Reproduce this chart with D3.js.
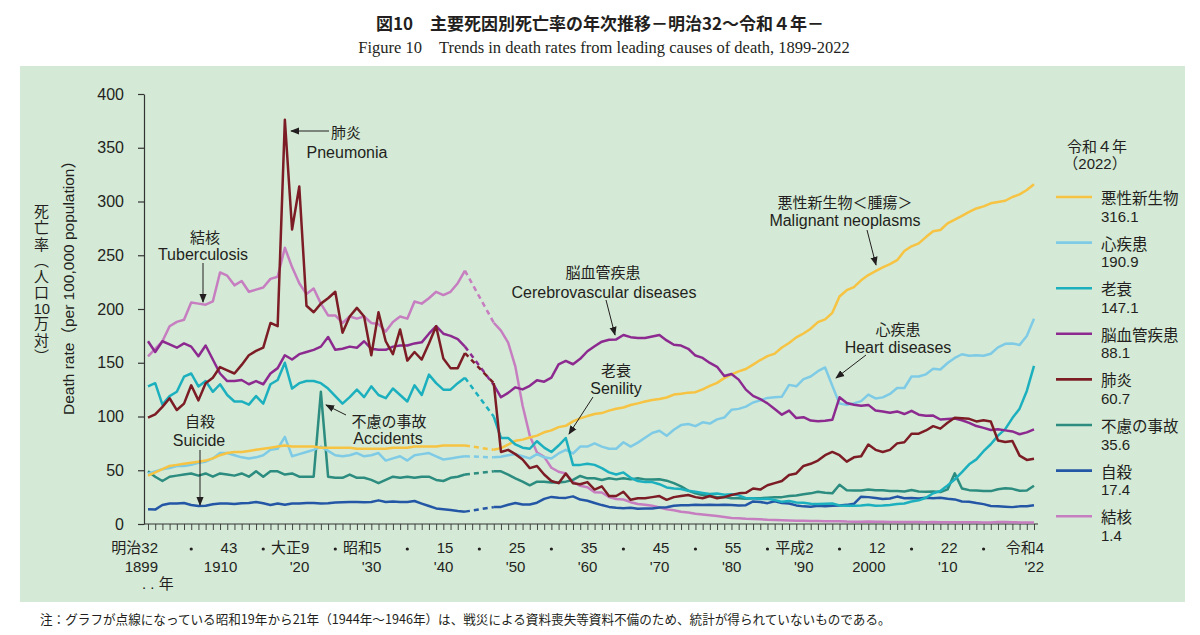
<!DOCTYPE html>
<html>
<head>
<meta charset="utf-8">
<script src="https://cdn.jsdelivr.net/npm/d3@7"></script>
<style>
body { margin: 0; background: #fff; position: relative; }
svg { display: block; }
text { font-family: "Liberation Sans", Arial, "Noto Sans CJK JP", sans-serif; fill: #231f20; }
.vlabel { position: absolute; writing-mode: vertical-rl; font-family: "Noto Sans CJK JP", sans-serif; color: #231f20; white-space: nowrap; line-height: 1; }
.vlabel .tcy { text-combine-upright: all; font-family: "Liberation Sans", sans-serif; }
</style>
</head>
<body>
<svg width="1200" height="635"></svg>
<script>
const years = d3.range(1899, 2023);

// death rates per 100,000, 1899-2022 (1944-1946 missing)
const malignant = [45, 48, 51, 54, 55, 56, 57, 58, 59, 61, 64,
  66, 67, 67, 68, 69, 70, 71, 72, 73, 72,
  72, 72, 72, 71, 71, 71, 71, 71, 70, 70,
  70, 70, 70, 71, 71, 71, 72, 72, 72, 72,
  73, 73, 73, 73, null, null, null, 69.0, 70.6, 73.8,
  77.4, 78.5, 80.5, 82.2, 85.3, 87.1, 90.1, 91.3, 95.5, 98.2,
  100.4, 102.3, 103.2, 105.5, 107.2, 108.4, 110.7, 112.2, 113.9, 115.4,
  116.3, 117.7, 120.4, 121.2, 122.2, 122.6, 125.3, 128.4, 131.3, 135.7,
  139.1, 142.0, 144.2, 148.3, 152.5, 156.1, 158.5, 164.2, 168.4, 173.6,
  177.2, 181.7, 187.8, 190.4, 196.4, 211.6, 217.5, 220.4, 226.7, 231.6,
  235.2, 238.8, 241.7, 245.4, 253.9, 258.3, 261.0, 266.9, 272.3, 273.5,
  279.7, 283.2, 286.6, 290.3, 293.5, 295.5, 298.3, 299.5, 300.7, 304.2,
  306.6, 310.7, 316.1];

const heart = [47, 49, 51, 52, 54, 54, 55, 57, 58, 61, 66,
  66, 64, 62, 61, 62, 64, 69, 70, 81, 63,
  65, 67, 69, 72, 68, 64, 63, 64, 66, 63,
  64, 66, 59, 61, 63, 59, 64, 65, 66, 63,
  60, 61, 62, 63, null, null, null, 62, 62.6, 64,
  65, 63, 61, 65, 62, 61, 65.6, 69, 65.6, 72,
  72, 75, 72, 70, 70, 76, 72, 75.7, 80.2, 84.7,
  86.7, 82, 87.6, 92, 93, 91, 94.6, 93.4, 97.3, 99,
  106.2, 107.1, 109.2, 113, 115, 117.3, 117.9, 118.4, 129.4, 128.1,
  134.8, 137.2, 142.2, 145.6, 128.6, 112.0, 110.8, 112.2, 114.3, 120.4,
  116.8, 117.8, 121.0, 126.5, 126.5, 137.2, 137.2, 139.2, 144.4, 143.7,
  149.8, 154.5, 157.9, 156.5, 157.0, 156.5, 158.4, 164.3, 167.6, 167.9,
  166.6, 174.9, 190.9];

const senility = [128, 131, 111, 119, 123, 137, 140, 128, 133, 123, 130,
  120, 114, 114, 111, 119, 112, 130, 134, 150, 126,
  131, 133, 133, 131, 126, 119, 112, 118, 125, 118,
  128, 120, 117, 126, 120, 114, 129, 120, 139, 131,
  125, 125, 131, 136, null, null, null, 100, 80, 80,
  74, 71, 70, 77, 71, 67, 73, 80, 55, 55,
  56, 55, 52, 48, 46, 48, 43, 40, 39, 39,
  37, 34, 33, 32.5, 31, 30, 28.9, 27.9, 28.4, 27.2,
  27.6, 26.7, 24, 24, 23.2, 23.4, 22.4, 20.6, 21.5, 20,
  19.7, 18.9, 18.6, 18.8, 19.1, 17.3, 17.0, 16.9, 17.2, 18.0,
  16.9, 17.2, 17.7, 18.6, 19.0, 20.9, 22.0, 24.4, 28.6, 30.7,
  35.9, 41.4, 48.2, 55.5, 60.1, 67.7, 74.2, 82.2, 88.2, 98.5,
  107.3, 123.8, 147.1];

const cerebro = [170, 160, 170, 167, 164, 168, 165, 156, 166, 153, 140,
  133, 133, 134, 130, 133, 130, 140, 145, 157, 153,
  158, 160, 162, 165, 174, 162, 163, 165, 164, 170,
  163, 162, 162, 165, 166, 166, 168, 169, 177, 184,
  177, 175, 172, 165, null, null, null, 129.4, 117.9, 122.0,
  127.1, 125.2, 128.5, 133.7, 132.4, 136.1, 148.4, 151.7, 148.6, 153.7,
  160.7, 165.4, 169.6, 171.4, 171.7, 175.8, 173.8, 173.1, 173.1, 174.4,
  175.8, 170.8, 166.7, 166.0, 163.0, 156.7, 154.5, 149.8, 146.2, 137.7,
  139.5, 134.3, 125.0, 119.2, 116.2, 112.2, 106.9, 101.7, 105.5, 98.5,
  99.4, 96.2, 95.6, 96.0, 96.9, 117.9, 112.6, 111.0, 110.0, 110.8,
  105.5, 104.7, 103.4, 104.7, 102.3, 105.3, 101.7, 100.8, 100.9, 97.2,
  97.7, 98.2, 96.5, 94.1, 91.1, 89.4, 87.4, 88.2, 87.1, 86.1,
  83.5, 85.2, 88.1];

const pneumonia = [99, 102, 109, 117, 106, 112, 129, 115, 131, 136, 146,
  143, 140, 148, 157, 161, 164, 187, 184, 376, 274,
  314, 203, 197, 205, 210, 216, 178, 193, 201, 193,
  157, 197, 170, 158, 181, 152, 160, 153, 168, 184,
  154, 145, 145, 159, null, null, null, 131, 67, 69,
  65, 60, 52, 54, 46, 40, 38, 47, 38, 37,
  39, 32, 35, 26, 26, 30, 22.5, 24, 24, 25,
  26, 22.5, 25, 26, 27, 25, 24, 26, 24, 25,
  27, 28.5, 29, 33, 32, 36, 38, 40, 45.6, 47,
  54, 56, 59, 64, 67, 64, 58, 62, 63, 74,
  69, 67, 69, 75, 76, 84, 84, 87, 91, 88.7,
  94.1, 98.9, 98.4, 97.8, 95.4, 96.5, 95.4, 77.7, 76.2, 77.2,
  63.6, 59.6, 60.7];

const accidents = [49, 44, 40, 44, 45, 46, 47, 45, 47, 44, 47,
  46, 45, 47, 44, 49, 44, 49, 49, 46, 47,
  44, 44, 44, 123, 44, 43, 43, 46, 43, 43,
  41, 38, 41, 44, 43, 44, 43, 44, 44, 41,
  40, 43, 44, 46, null, null, null, 49, 49, 46,
  42.5, 39.4, 36, 39.4, 39.4, 38.5, 38.5, 39.4, 41, 44.7,
  42.5, 42.5, 41, 42.5, 41.5, 42.5, 41.5, 42.5, 41.5, 41.5,
  41.6, 40.3, 38, 35, 31, 28.5, 27, 26, 25, 25,
  24, 24, 23.5, 24, 24, 24.5, 25, 25, 26, 26.5,
  27.6, 28.5, 30, 29, 28.5, 36.5, 31.4, 31.1, 31.1, 32.0,
  31.4, 31.4, 30.7, 30.7, 30.3, 31.6, 30.3, 30.1, 30.3, 29.7,
  32.2, 47.1, 33.0, 31.5, 31.1, 30.6, 30.6, 32.4, 33.2, 32.7,
  30.9, 31.2, 35.6];

const suicide = [13.7, 13.4, 17.7, 19, 19, 19.6, 17.7, 16.7, 17, 18.3, 19,
  19, 18.6, 19.3, 19.6, 20.5, 19.3, 17.7, 19, 18, 19,
  19, 19.6, 19.6, 19, 19.3, 20, 20.2, 20.5, 20.5, 20.3,
  20.5, 22, 20.5, 21, 20.5, 20.5, 21.4, 19, 16.7, 14.5,
  13.7, 13, 12.1, 11.5, null, null, null, 15.7, 15.9, 17.9,
  19.6, 18.2, 18.2, 19.8, 23.4, 25.2, 24.5, 24.3, 25.7, 22.7,
  21.6, 19.6, 17.6, 15.9, 15.1, 14.7, 15.2, 14.2, 14.5, 14.5,
  15.3, 15.6, 17.0, 17.4, 17.5, 18.0, 17.6, 17.9, 17.6, 18.0,
  17.7, 17.1, 17.5, 21.0, 20.4, 19.4, 21.2, 19.6, 19.0, 17.3,
  16.4, 16.1, 16.9, 16.6, 16.9, 17.2, 17.8, 18.8, 25.4, 25.0,
  24.1, 23.3, 23.8, 25.5, 24.0, 24.2, 23.7, 24.4, 24.0, 24.4,
  23.4, 22.9, 21.0, 20.7, 19.5, 18.5, 16.8, 16.4, 16.1, 15.7,
  16.4, 16.5, 17.4];

const tuberculosis = [156, 163, 170, 184, 188, 190, 206, 205, 204, 207, 234,
  231, 222, 226, 216, 218, 220, 228, 230, 257, 239,
  224, 214, 219, 205, 194, 194, 187, 193, 191, 193,
  187, 186, 179, 188, 193, 191, 207, 205, 210, 216,
  213, 216, 224, 235.6, null, null, null, 187.2, 179.9, 168.8,
  146.4, 110.3, 82.2, 66.5, 62.4, 52.3, 48.6, 46.9, 39.3, 35.5,
  34.2, 29.6, 29.3, 25.1, 23.3, 22.8, 20.3, 18.6, 17.9, 16.9,
  15.4, 13.6, 12.8, 11.4, 10.7, 9.5, 8.8, 8.1, 7.5, 6.5,
  5.5, 5.3, 4.8, 4.6, 4.4, 3.9, 3.7, 3.5, 3.3, 3.1,
  3.0, 2.8, 2.7, 2.6, 2.6, 2.6, 2.3, 2.2, 2.2, 2.3,
  2.1, 2.0, 1.8, 1.9, 1.8, 1.8, 1.8, 1.7, 1.8, 1.7,
  1.7, 1.7, 1.7, 1.7, 1.7, 1.5, 1.5, 1.8, 1.8, 1.7,
  1.5, 1.5, 1.4];

const seriesNames = ['悪性新生物', '心疾患', '老衰', '脳血管疾患', '肺炎', '不慮の事故', '自殺', '結核'];
const lastValues = ['316.1', '190.9', '147.1', '88.1', '60.7', '35.6', '17.4', '1.4'];
const colors = ['#f6c343', '#7fcbe6', '#1cb0bf', '#8c2a90', '#7c1c25', '#2b8c7f', '#2456a6', '#c67ec0'];
const seriesValues = [malignant, heart, senility, cerebro, pneumonia, accidents, suicide, tuberculosis];
const drawOrder = [7, 6, 5, 1, 0, 2, 3, 4];

const yTicks = d3.range(0, 401, 50);
const eraLabels = [[1899, '明治32'], [1910, '43'], [1920, '大正9'], [1930, '昭和5'], [1940, '15'], [1950, '25'],
  [1960, '35'], [1970, '45'], [1980, '55'], [1990, '平成2'], [2000, '12'], [2010, '22'], [2022, '令和4']];
const yearLabels = [[1899, '1899'], [1910, '1910'], [1920, "'20"], [1930, "'30"], [1940, "'40"], [1950, "'50"],
  [1960, "'60"], [1970, "'70"], [1980, "'80"], [1990, "'90"], [2000, '2000'], [2010, "'10"], [2022, "'22"]];
const dotYears = d3.range(1905, 2020, 10);

const svg = d3.select('svg');

svg.append('rect')
  .attr('x', 20).attr('y', 66)
  .attr('width', 1165).attr('height', 536)
  .attr('fill', '#d4ead6');

svg.append('text')
  .attr('x', 600).attr('y', 22)
  .attr('text-anchor', 'middle')
  .attr('dominant-baseline', 'central')
  .style('font-family', '"Noto Sans CJK JP", sans-serif')
  .style('font-weight', 'bold')
  .style('font-size', '17px')
  .text('図10　主要死因別死亡率の年次推移－明治32～令和４年－');

svg.append('text')
  .attr('x', 604).attr('y', 47)
  .attr('text-anchor', 'middle')
  .attr('dominant-baseline', 'central')
  .style('font-family', '"Liberation Serif", serif')
  .style('font-size', '16.5px')
  .text('Figure 10　Trends in death rates from leading causes of death, 1899-2022');

svg.append('text')
  .attr('x', 40).attr('y', 618)
  .attr('dominant-baseline', 'central')
  .style('font-family', '"Noto Sans CJK JP", sans-serif')
  .style('font-size', '12.6px')
  .text('注：グラフが点線になっている昭和19年から21年（1944年～1946年）は、戦災による資料喪失等資料不備のため、統計が得られていないものである。');

const x = d3.scaleLinear().domain([1899, 2022]).range([148, 1034]);
const y = d3.scaleLinear().domain([0, 400]).range([524, 94]);

// axes
const yAxis = svg.append('g')
  .attr('transform', 'translate(144,0)')
  .call(d3.axisLeft(y).tickValues(yTicks).tickSize(6).tickSizeOuter(0).tickPadding(14));
yAxis.selectAll('text').style('font-size', '16px').attr('fill', '#231f20');
yAxis.selectAll('line, path').attr('stroke', '#333').attr('stroke-width', 1.2);

const xAxis = svg.append('g')
  .attr('transform', 'translate(0,524)')
  .call(d3.axisBottom(x).tickValues(years).tickSize(6).tickSizeOuter(0).tickFormat(''));
xAxis.select('.domain').remove();
xAxis.selectAll('line').attr('stroke', '#333').attr('stroke-width', 0.9);
svg.append('line')
  .attr('x1', 144).attr('x2', 1038)
  .attr('y1', 524).attr('y2', 524)
  .attr('stroke', '#333').attr('stroke-width', 1.2);

svg.append('g').selectAll('text')
  .data(eraLabels)
  .join('text')
  .attr('x', d => x(d[0]) + 10)
  .attr('y', 547)
  .attr('text-anchor', 'end')
  .attr('dominant-baseline', 'central')
  .style('font-size', '15px')
  .text(d => d[1]);

svg.append('g').selectAll('text')
  .data(yearLabels)
  .join('text')
  .attr('x', d => x(d[0]) + 10)
  .attr('y', 566)
  .attr('text-anchor', 'end')
  .attr('dominant-baseline', 'central')
  .style('font-size', '15px')
  .text(d => d[1]);

svg.append('g').selectAll('circle')
  .data(dotYears)
  .join('circle')
  .attr('cx', d => x(d))
  .attr('cy', 549)
  .attr('r', 1.6)
  .attr('fill', '#231f20');

svg.append('text')
  .attr('x', 142).attr('y', 583)
  .attr('dominant-baseline', 'central')
  .style('font-size', '15px')
  .text('. . 年');

// axis titles
svg.append('text')
  .attr('transform', 'translate(68,284) rotate(-90)')
  .attr('text-anchor', 'middle')
  .attr('dominant-baseline', 'central')
  .style('font-size', '15.5px')
  .text('Death rate（per 100,000 population）');

const vlabel = d3.select('body').append('div')
  .attr('class', 'vlabel')
  .style('left', '34px')
  .style('top', '204px')
  .style('font-size', '15px')
  .style('letter-spacing', '1.2px');
vlabel.append('span').text('死亡率（人口');
vlabel.append('span').attr('class', 'tcy').text('10');
vlabel.append('span').text('万対）');

// lines
const line = d3.line()
  .defined(d => d[1] != null)
  .x(d => x(d[0]))
  .y(d => y(d[1]));

const lines = svg.append('g');
drawOrder.forEach(i => {
  const vals = seriesValues[i];
  const pts = years.map((yr, j) => [yr, vals[j]]);
  const gap = [[1943, vals[1943 - 1899]], [1947, vals[1947 - 1899]]];
  lines.append('path')
    .attr('d', line(gap))
    .attr('fill', 'none')
    .attr('stroke', colors[i])
    .attr('stroke-width', 2.5)
    .attr('stroke-dasharray', '5,4');
  lines.append('path')
    .attr('d', line(pts))
    .attr('fill', 'none')
    .attr('stroke', colors[i])
    .attr('stroke-width', 2.5)
    .attr('stroke-linejoin', 'round');
});

// annotations
svg.append('defs').append('marker')
  .attr('id', 'arr')
  .attr('viewBox', '0 0 10 10')
  .attr('refX', 9).attr('refY', 5)
  .attr('markerWidth', 9).attr('markerHeight', 9)
  .attr('markerUnits', 'userSpaceOnUse')
  .attr('orient', 'auto')
  .append('path')
  .attr('d', 'M0,1L10,5L0,9z')
  .attr('fill', '#231f20');

const notes = [
  { jp: '肺炎', en: 'Pneumonia', tx: 346, ty: 131, ex: 347, ey: 152, a: [329, 131, 291, 131] },
  { jp: '結核', en: 'Tuberculosis', tx: 205, ty: 236, ex: 203, ey: 254, a: [203, 263, 203, 302] },
  { jp: '自殺', en: 'Suicide', tx: 200, ty: 420, ex: 199, ey: 440, a: [200, 450, 200, 505] },
  { jp: '不慮の事故', en: 'Accidents', tx: 389, ty: 420, ex: 388, ey: 438, a: [346, 415, 326, 405] },
  { jp: '脳血管疾患', en: 'Cerebrovascular diseases', tx: 603, ty: 271, ex: 604, ey: 292, a: [606, 300, 615, 335] },
  { jp: '老衰', en: 'Senility', tx: 616, ty: 369, ex: 616, ey: 388, a: [593, 397, 569, 434] },
  { jp: '悪性新生物＜腫瘍＞', en: 'Malignant neoplasms', tx: 845, ty: 201, ex: 845, ey: 220, a: [867, 230, 876, 265] },
  { jp: '心疾患', en: 'Heart diseases', tx: 898, ty: 328, ex: 898, ey: 347, a: [866, 355, 836, 378] }
];

const ann = svg.append('g');
notes.forEach(n => {
  ann.append('text')
    .attr('x', n.tx).attr('y', n.ty)
    .attr('text-anchor', 'middle')
    .attr('dominant-baseline', 'central')
    .style('font-family', '"Noto Sans CJK JP", sans-serif')
    .style('font-size', '15px')
    .text(n.jp);
  ann.append('text')
    .attr('x', n.ex).attr('y', n.ey)
    .attr('text-anchor', 'middle')
    .attr('dominant-baseline', 'central')
    .style('font-size', '16px')
    .text(n.en);
  ann.append('line')
    .attr('x1', n.a[0]).attr('y1', n.a[1])
    .attr('x2', n.a[2]).attr('y2', n.a[3])
    .attr('stroke', '#231f20')
    .attr('stroke-width', 1)
    .attr('marker-end', 'url(#arr)');
});

// legend
svg.append('text')
  .attr('x', 1097).attr('y', 145)
  .attr('text-anchor', 'middle')
  .attr('dominant-baseline', 'central')
  .style('font-family', '"Noto Sans CJK JP", sans-serif')
  .style('font-size', '15px')
  .text('令和４年');
svg.append('text')
  .attr('x', 1095).attr('y', 163)
  .attr('text-anchor', 'middle')
  .attr('dominant-baseline', 'central')
  .style('font-size', '15px')
  .text('（2022）');

const legend = svg.append('g').selectAll('g')
  .data(seriesNames)
  .join('g')
  .attr('transform', (d, i) => `translate(0,${197 + i * 45.6})`);

legend.append('line')
  .attr('x1', 1056).attr('x2', 1092)
  .attr('stroke', (d, i) => colors[i])
  .attr('stroke-width', 2.6);

legend.append('text')
  .attr('x', 1101)
  .attr('dominant-baseline', 'central')
  .style('font-family', '"Noto Sans CJK JP", sans-serif')
  .style('font-size', '15.5px')
  .text(d => d);

legend.append('text')
  .attr('x', 1101).attr('y', 19)
  .attr('dominant-baseline', 'central')
  .style('font-family', '"Liberation Sans Narrow", "Liberation Sans", sans-serif')
  .style('font-size', '15px')
  .text((d, i) => lastValues[i]);
</script>
</body>
</html>
